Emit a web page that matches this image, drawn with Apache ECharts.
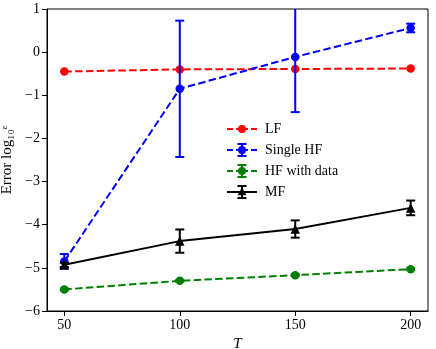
<!DOCTYPE html>
<html>
<head>
<meta charset="utf-8">
<script src="https://cdn.jsdelivr.net/npm/echarts@6/dist/echarts.min.js"></script>
<style>
  html, body { margin: 0; padding: 0; background: #fff; }
  #chart { width: 436px; height: 349px; }
</style>
</head>
<body>
<div id="chart"></div>
<script>
// sample sizes T
var tValues = [50, 100, 150, 200];
var xTicks = [50, 100, 150, 200];
var yTicks = [-6, -5, -4, -3, -2, -1, 0, 1];

// log10 error
var lfValues = [-0.45, -0.40, -0.39, -0.38];

var singleHfValues = [-4.85, -0.85, -0.11, 0.56];
var singleHfErr = [0.17, 1.58, 1.28, 0.10];

var hfDataValues = [-5.50, -5.30, -5.17, -5.03];
var hfDataErr = [0.02, 0.02, 0.02, 0.02];

var mfValues = [-4.93, -4.38, -4.10, -3.61];
var mfErr = [0.05, 0.27, 0.20, 0.17];

var serif = 'Liberation Serif';

function pairs(vals) {
    return tValues.map(function (t, i) { return [t, vals[i]]; });
}
function bars(vals, err) {
    return tValues.map(function (t, i) { return [t, vals[i] - err[i], vals[i] + err[i]]; });
}

// error bar with caps, drawn through the axes
function errorBarSeries(name, color, vals, err, z) {
    return {
        name: name,
        type: 'custom',
        z: z,
        clip: true,
        itemStyle: { color: color },
        renderItem: function (params, api) {
            var lo = api.coord([api.value(0), api.value(1)]);
            var hi = api.coord([api.value(0), api.value(2)]);
            var half = 4.5;
            var st = { stroke: color, lineWidth: 2 };
            return {
                type: 'group',
                children: [
                    { type: 'line', shape: { x1: lo[0], y1: lo[1], x2: hi[0], y2: hi[1] }, style: st },
                    { type: 'line', shape: { x1: lo[0] - half, y1: lo[1], x2: lo[0] + half, y2: lo[1] }, style: st },
                    { type: 'line', shape: { x1: hi[0] - half, y1: hi[1], x2: hi[0] + half, y2: hi[1] }, style: st }
                ]
            };
        },
        encode: { x: 0, y: [1, 2] },
        data: bars(vals, err)
    };
}

function lineSeries(name, color, vals, dashed, symbol, size, z) {
    return {
        name: name,
        type: 'line',
        z: z,
        data: pairs(vals),
        symbol: symbol,
        symbolSize: size,
        showSymbol: true,
        itemStyle: { color: color },
        lineStyle: { color: color, width: 2, type: dashed ? [7.5, 3.3] : 'solid' },
        emphasis: { disabled: true },
        animation: false
    };
}

// legend handles (30 wide)
var dashes = 'M0 7 h6 v2 h-6 Z M9 7 h5 v2 h-5 Z M16 7 h5 v2 h-5 Z M24 7 h6 v2 h-6 Z ';
var solid = 'M0 7 h30 v2 h-30 Z ';
var dot = 'M19 8 A4 4 0 1 1 11 8 A4 4 0 1 1 19 8 Z ';
var tri = 'M15 3.5 L19.5 11.2 L10.5 11.2 Z ';
var ebar = 'M14 1 h2 v14 h-2 Z M10.5 1 h9 v2 h-9 Z M10.5 13 h9 v2 h-9 Z ';

var myChart = echarts.init(document.getElementById('chart'));
var option = {
    backgroundColor: '#fff',
    animation: false,
    grid: {
        left: 47, right: 8, top: 9, bottom: 38,
        outerBoundsMode: 'none',
        containLabel: false,
        show: true, borderColor: '#000', borderWidth: 1, backgroundColor: 'transparent'
    },
    legend: {
        orient: 'vertical',
        left: 222,
        top: 117,
        itemWidth: 30,
        itemHeight: 14,
        itemGap: 7,
        selectedMode: false,
        textStyle: { fontFamily: serif, fontSize: 14, color: '#000', padding: [0, 0, 0, 3] },
        data: [
            { name: 'LF', icon: 'path://' + dashes + dot, itemStyle: { color: '#ff0000' } },
            { name: 'Single HF', icon: 'path://' + dashes + dot + ebar, itemStyle: { color: '#0000ff' } },
            { name: 'HF with data', icon: 'path://' + dashes + dot + ebar, itemStyle: { color: '#008000' } },
            { name: 'MF', icon: 'path://' + solid + tri + ebar, itemStyle: { color: '#000000' } }
        ]
    },
    xAxis: {
        type: 'value',
        min: 42.5,
        max: 207.5,
        name: 'T',
        nameLocation: 'middle',
        nameGap: 25,
        nameTextStyle: { fontFamily: serif, fontSize: 15, fontStyle: 'italic', color: '#000' },
        axisLine: { show: true, onZero: false, lineStyle: { color: '#000', width: 1 } },
        axisTick: { show: true, customValues: xTicks, length: 5, lineStyle: { color: '#000' } },
        axisLabel: { customValues: xTicks, fontFamily: serif, fontSize: 14, color: '#000', margin: 7 },
        splitLine: { show: false }
    },
    yAxis: {
        type: 'value',
        min: yTicks[0],
        max: yTicks[yTicks.length - 1],
        interval: 1,
        name: 'Error log\u2081\u2080\u1D4B',
        nameLocation: 'middle',
        nameGap: 27,
        nameTextStyle: { fontFamily: serif, fontSize: 15, color: '#000' },
        axisLine: { show: true, onZero: false, lineStyle: { color: '#000', width: 1 } },
        axisTick: { show: true, length: 5, lineStyle: { color: '#000' } },
        axisLabel: {
            fontFamily: serif, fontSize: 14, color: '#000', margin: 7,
            formatter: function (v) { return String(v).replace('-', '\u2212'); }
        },
        splitLine: { show: false }
    },
    series: [
        lineSeries('LF', '#ff0000', lfValues, true, 'circle', 8.5, 2),
        errorBarSeries('Single HF', '#0000ff', singleHfValues, singleHfErr, 3),
        lineSeries('Single HF', '#0000ff', singleHfValues, true, 'circle', 8.5, 3),
        errorBarSeries('HF with data', '#008000', hfDataValues, hfDataErr, 4),
        lineSeries('HF with data', '#008000', hfDataValues, true, 'circle', 8.5, 4),
        errorBarSeries('MF', '#000000', mfValues, mfErr, 5),
        lineSeries('MF', '#000000', mfValues, false, 'triangle', 9.5, 5)
    ]
};
myChart.setOption(option);
</script>
</body>
</html>
